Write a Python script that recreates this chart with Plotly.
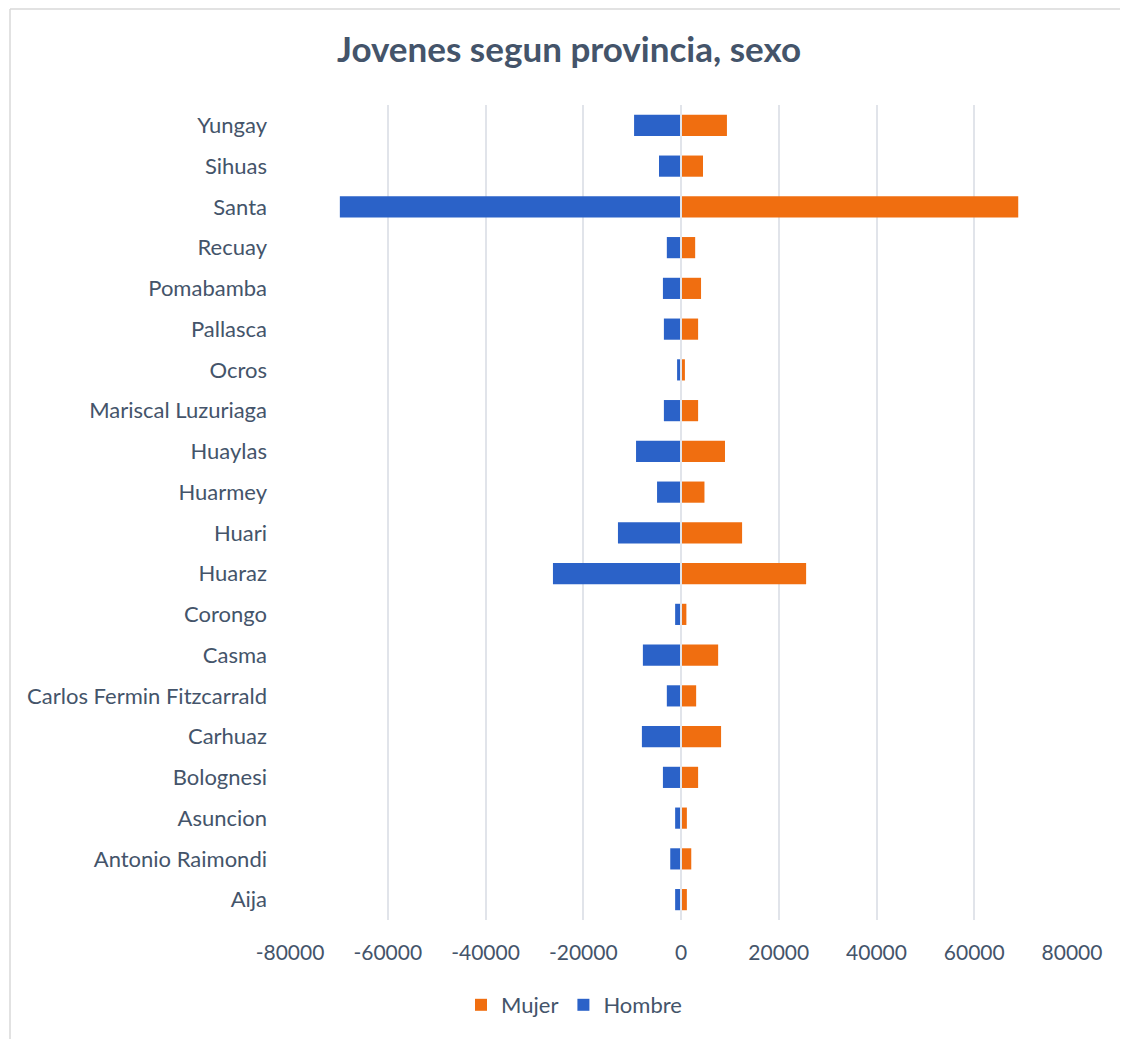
import plotly.graph_objects as go

provincias = ["Aija", "Antonio Raimondi", "Asuncion", "Bolognesi", "Carhuaz",
              "Carlos Fermin Fitzcarrald", "Casma", "Corongo", "Huaraz", "Huari",
              "Huarmey", "Huaylas", "Mariscal Luzuriaga", "Ocros", "Pallasca",
              "Pomabamba", "Recuay", "Santa", "Sihuas", "Yungay"]
mujer = [1200, 2100, 1200, 3500, 8200, 3100, 7600, 1100, 25600, 12500,
         4800, 9000, 3500, 800, 3500, 4100, 2900, 69000, 4500, 9400]
hombre = [-1200, -2200, -1200, -3700, -8000, -2900, -7800, -1200, -26200, -12900,
          -4900, -9200, -3500, -800, -3500, -3700, -2900, -69800, -4500, -9600]
x_ticks = [-80000, -60000, -40000, -20000, 0, 20000, 40000, 60000, 80000]

font_main = "Lato, 'Open Sans', sans-serif"
text_col = "#44546A"

W, H = 1128, 1039
L, R, T, B = 282, 64, 97, 127
pw, ph = W - L - R, H - T - B

fig = go.Figure()
fig.add_trace(go.Bar(y=provincias, x=mujer, orientation="h", name="Mujer",
                     marker=dict(color="#F06E10", line=dict(width=0))))
fig.add_trace(go.Bar(y=provincias, x=hombre, orientation="h", name="Hombre",
                     marker=dict(color="#2B62C8", line=dict(width=0))))

fig.update_layout(
    barmode="relative",
    bargap=0.48,
    width=W, height=H,
    margin=dict(l=L, r=R, t=T, b=B),
    paper_bgcolor="white", plot_bgcolor="white",
    title=dict(text="<b>Jovenes segun provincia, sexo</b>",
               x=(569 - 8) / W, xanchor="center",
               y=1 - 42 / H, yanchor="middle",
               font=dict(family=font_main, size=35, color=text_col)),
    font=dict(family=font_main, size=22, color=text_col),
    legend=dict(orientation="h", x=(574 - 8 - L) / pw, xanchor="center",
                y=-(997 - (T + ph)) / ph, yanchor="middle",
                font=dict(size=22, color=text_col), traceorder="normal"),
    xaxis=dict(range=[-80000, 80000], tickvals=x_ticks,
               ticktext=[str(v) for v in x_ticks],
               tickfont=dict(size=21),
               showgrid=True, gridcolor="#E1E4EA", gridwidth=2,
               zeroline=False, showline=False, ticks="",
               ticklabelstandoff=18, fixedrange=True),
    yaxis=dict(showgrid=False, zeroline=False, showline=False, ticks="",
               ticklabelstandoff=22, categoryorder="array", categoryarray=provincias),
    shapes=[
        dict(type="line", xref="x", yref="paper", x0=0, x1=0, y0=0, y1=1,
             line=dict(color="#E1E4EA", width=2), layer="above"),
        dict(type="line", xref="paper", yref="paper", x0=(2 - L) / pw, x1=(W - L) / pw,
             y0=1 + (T - 1) / ph, y1=1 + (T - 1) / ph,
             line=dict(color="#D9D9D9", width=1.5)),
        dict(type="line", xref="paper", yref="paper", x0=(2 - L) / pw, x1=(2 - L) / pw,
             y0=-B / ph, y1=1 + (T - 1) / ph,
             line=dict(color="#D9D9D9", width=1.5)),
    ],
)
fig.write_html("out.html")
